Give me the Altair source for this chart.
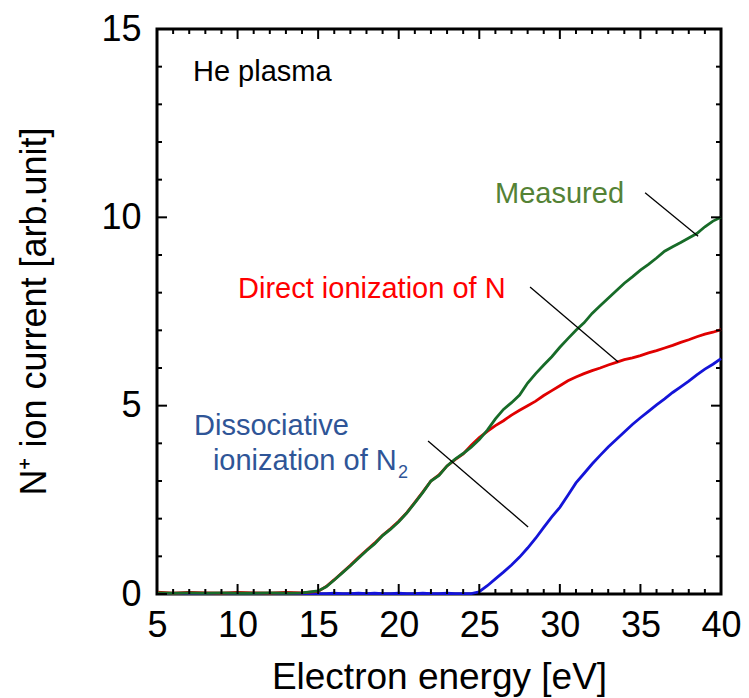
import altair as alt
import pandas as pd

# Electron energy grid [eV]
energy = [5, 6, 7, 8, 9, 10, 11, 12, 13, 14, 15,
          15.5, 16, 16.5, 17, 17.5, 18, 18.5, 19, 19.5, 20,
          20.5, 21, 21.5, 22, 22.5, 23, 23.5, 24, 24.5, 25,
          25.5, 26, 26.5, 27, 27.5, 28, 28.5, 29, 29.5, 30,
          30.5, 31, 31.5, 32, 32.5, 33, 33.5, 34, 34.5, 35,
          35.5, 36, 36.5, 37, 37.5, 38, 38.5, 39, 39.5, 40]

measured = [0.03, 0.02, 0.03, 0.02, 0.03, 0.02, 0.02, 0.03, 0.02, 0.03, 0.08,
            0.19, 0.37, 0.56, 0.75, 0.95, 1.15, 1.33, 1.55, 1.72, 1.92,
            2.15, 2.42, 2.70, 3.00, 3.15, 3.40, 3.58, 3.73, 3.90, 4.10,
            4.35, 4.65, 4.90, 5.08, 5.28, 5.60, 5.85, 6.08, 6.30, 6.55,
            6.78, 7.00, 7.20, 7.45, 7.65, 7.85, 8.05, 8.25, 8.42, 8.60,
            8.75, 8.92, 9.10, 9.22, 9.33, 9.45, 9.57, 9.75, 9.90, 10.00]

direct = [0.05, 0.02, 0.04, 0.03, 0.02, 0.04, 0.03, 0.02, 0.04, 0.03, 0.07,
          0.20, 0.38, 0.57, 0.76, 0.97, 1.16, 1.35, 1.56, 1.74, 1.93,
          2.16, 2.43, 2.71, 3.00, 3.16, 3.40, 3.57, 3.72, 3.95, 4.15,
          4.32, 4.47, 4.60, 4.75, 4.88, 5.00, 5.12, 5.27, 5.40, 5.53,
          5.66, 5.76, 5.85, 5.93, 6.00, 6.08, 6.15, 6.22, 6.27, 6.33,
          6.40, 6.46, 6.53, 6.60, 6.68, 6.75, 6.83, 6.90, 6.95, 7.02]

dissociative = [0.01, 0.01, 0.02, 0.01, 0.01, 0.02, 0.01, 0.01, 0.02, 0.01, 0.01,
                0.01, 0.02, 0.01, 0.01, 0.02, 0.01, 0.02, 0.01, 0.01, 0.02,
                0.01, 0.01, 0.02, 0.01, 0.01, 0.02, 0.01, 0.01, 0.01, 0.06,
                0.22, 0.40, 0.58, 0.77, 0.98, 1.22, 1.48, 1.77, 2.05, 2.30,
                2.62, 2.95, 3.20, 3.45, 3.68, 3.90, 4.10, 4.30, 4.50, 4.68,
                4.85, 5.02, 5.18, 5.35, 5.50, 5.65, 5.82, 5.97, 6.10, 6.25]

series_names = ["Dissociative", "Direct", "Measured"]
series_colors = ["#1414d8", "#e00000", "#176b28"]

# Annotations
ann_text = ["He plasma", "Measured", "Direct ionization of N",
            "Dissociative", "ionization of N", "2"]
ann_x = [7.23, 25.98, 10.03, 7.30, 8.47, 19.95]
ann_y = [13.63, 10.37, 7.85, 4.22, 3.29, 3.08]
ann_color = ["#000000", "#548235", "#ff0000", "#2f5597", "#2f5597", "#2f5597"]
ann_size = [29, 29, 29, 29, 29, 18]

# Leader lines
lead_x1 = [35.29, 28.15, 21.82]
lead_y1 = [10.65, 8.15, 4.06]
lead_x2 = [38.58, 33.62, 28.03]
lead_y2 = [9.50, 6.16, 1.78]

x_major = [5, 10, 15, 20, 25, 30, 35, 40]
x_minor = [v for v in range(5, 41) if v % 5 != 0]
y_major = [0, 5, 10, 15]
y_minor = [v for v in range(0, 16) if v % 5 != 0]

FONT = "Liberation Sans"
W, H = 564, 565

rows = []
for name, vals in zip(series_names, [dissociative, direct, measured]):
    for e, v in zip(energy, vals):
        rows.append({"E": e, "I": v, "series": name})
df = pd.DataFrame(rows)

xscale = alt.Scale(domain=[5, 40], nice=False, zero=False)
yscale = alt.Scale(domain=[0, 15], nice=False, zero=False)

x_axis = alt.Axis(values=x_major, ticks=False, domain=False, grid=False,
                  labelFontSize=36, labelFont=FONT, labelColor="black",
                  labelPadding=14, labelFlush=False, labelOverlap=False,
                  title="Electron energy [eV]", titleFontSize=37,
                  titleFont=FONT, titleFontWeight="normal", titleColor="black",
                  titleY=94, titleBaseline="alphabetic")
y_axis = alt.Axis(values=y_major, ticks=False, domain=False, grid=False,
                  labelFontSize=36, labelFont=FONT, labelColor="black",
                  labelPadding=16, labelFlush=False, labelOverlap=False,
                  labelBaseline="middle",
                  title="N⁺ ion current [arb.unit]", titleFontSize=36,
                  titleFont=FONT, titleFontWeight="normal", titleColor="black",
                  titleX=-112, titleY=282, titleAngle=270,
                  titleBaseline="alphabetic", titleAlign="center")

base = alt.Chart(df)

line_layers = []
for name, col in zip(series_names, series_colors):
    line_layers.append(
        base.transform_filter(alt.datum.series == name).mark_line(
            strokeWidth=2.8, interpolate="linear", color=col).encode(
            x=alt.X("E:Q", scale=xscale, axis=x_axis),
            y=alt.Y("I:Q", scale=yscale, axis=y_axis),
        )
    )

ann_df = pd.DataFrame({"x": ann_x, "y": ann_y, "t": ann_text, "c": ann_color, "s": ann_size})
texts = alt.Chart(ann_df).mark_text(align="left", baseline="alphabetic", font=FONT).encode(
    x=alt.X("x:Q", scale=xscale),
    y=alt.Y("y:Q", scale=yscale),
    text="t:N",
    color=alt.Color("c:N", scale=None),
    size=alt.Size("s:Q", scale=None),
)

lead_df = pd.DataFrame({"x1": lead_x1, "y1": lead_y1, "x2": lead_x2, "y2": lead_y2})
leaders = alt.Chart(lead_df).mark_rule(color="black", strokeWidth=1.3).encode(
    x=alt.X("x1:Q", scale=xscale), y=alt.Y("y1:Q", scale=yscale),
    x2="x2:Q", y2="y2:Q",
)

def xticks(vals, length):
    d = pd.DataFrame({"v": vals})
    bottom = alt.Chart(d).mark_rule(color="black", strokeWidth=2).encode(
        x=alt.X("v:Q", scale=xscale), y=alt.value(H), y2=alt.value(H - length))
    top = alt.Chart(d).mark_rule(color="black", strokeWidth=2).encode(
        x=alt.X("v:Q", scale=xscale), y=alt.value(0), y2=alt.value(length))
    return [bottom, top]

def yticks(vals, length):
    d = pd.DataFrame({"v": vals})
    left = alt.Chart(d).mark_rule(color="black", strokeWidth=2).encode(
        y=alt.Y("v:Q", scale=yscale), x=alt.value(0), x2=alt.value(length))
    right = alt.Chart(d).mark_rule(color="black", strokeWidth=2).encode(
        y=alt.Y("v:Q", scale=yscale), x=alt.value(W), x2=alt.value(W - length))
    return [left, right]

tick_layers = xticks(x_major, 10) + xticks(x_minor, 5) + yticks(y_major, 10) + yticks(y_minor, 5)

chart = alt.layer(*line_layers, leaders, texts, *tick_layers).properties(
    width=W, height=H,
    autosize=alt.AutoSizeParams(type="none"),
    padding={"left": 157, "top": 29, "right": 28, "bottom": 104},
    background="white",
).configure_view(stroke="black", strokeWidth=3)

chart.save("out.html", embed_options={"renderer": "svg", "actions": False})
